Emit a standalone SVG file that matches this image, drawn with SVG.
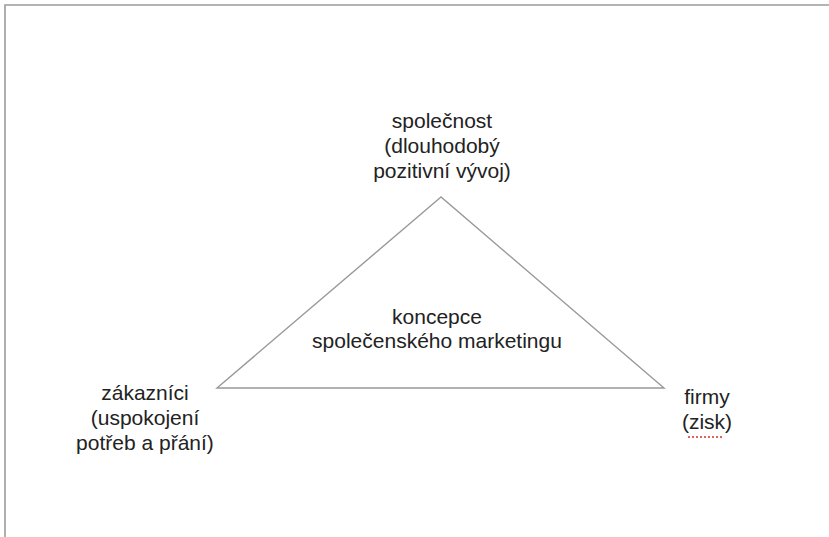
<svg xmlns="http://www.w3.org/2000/svg" width="829" height="537" viewBox="0 0 829 537">
  <style>
    .lbl { font-family: "Liberation Sans", Arial, sans-serif; font-size: 21px; fill: #222; text-anchor: middle; }
    .frame { fill: none; stroke: #9c9c9c; stroke-width: 1.6; }
    .edge { fill: none; stroke: #999; stroke-width: 1.4; stroke-linejoin: miter; }
    .spell { fill: none; stroke: #d93025; stroke-width: 1.6; stroke-dasharray: 2 2; }
  </style>
  <rect width="829" height="537" fill="#fff"/>
  <path class="frame" d="M5 537 V5 H829"/>
  <g id="connectors">
    <polygon class="edge" points="441,197 217,388 664,388"/>
  </g>
  <g id="node-spolecnost">
    <text class="lbl" x="442" y="128">společnost</text>
    <text class="lbl" x="442" y="153">(dlouhodobý</text>
    <text class="lbl" x="442" y="178">pozitivní vývoj)</text>
  </g>
  <g id="node-koncepce">
    <text class="lbl" x="437" y="324">koncepce</text>
    <text class="lbl" x="437" y="348">společenského marketingu</text>
  </g>
  <g id="node-zakaznici">
    <text class="lbl" x="145" y="400">zákazníci</text>
    <text class="lbl" x="145" y="425">(uspokojení</text>
    <text class="lbl" x="145" y="450">potřeb a přání)</text>
  </g>
  <g id="node-firmy">
    <text class="lbl" x="707" y="404">firmy</text>
    <text class="lbl" x="707" y="429">(zisk)</text>
    <path class="spell" d="M688 437 H724"/>
  </g>
</svg>
